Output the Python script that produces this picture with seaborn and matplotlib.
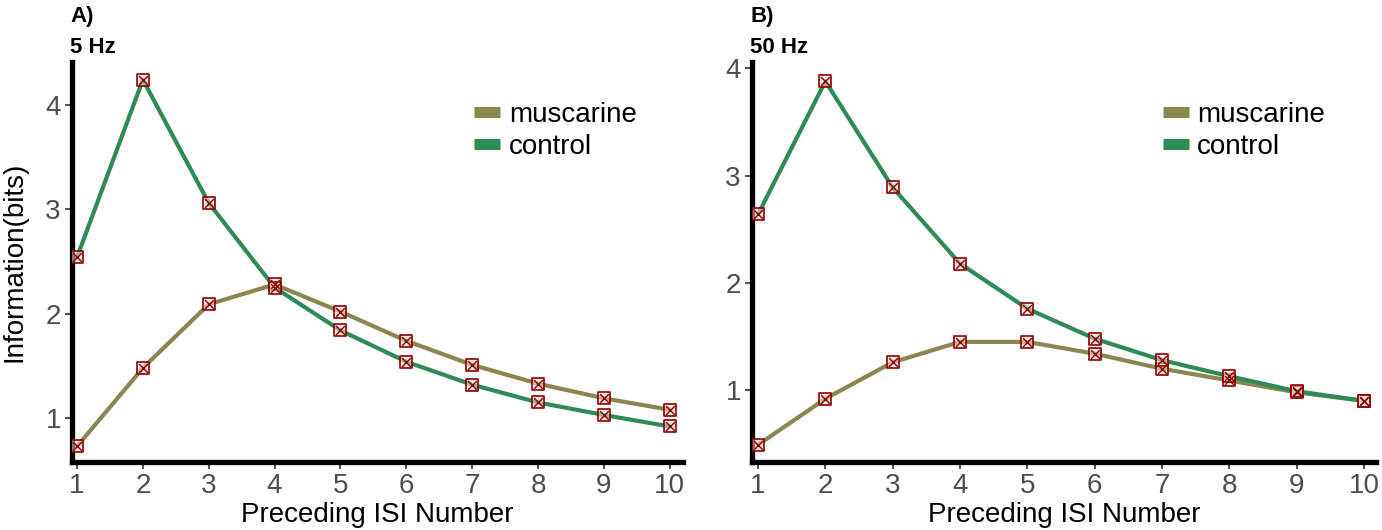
import numpy as np
import pandas as pd
import matplotlib
matplotlib.use("Agg")
import matplotlib.pyplot as plt
from matplotlib.lines import Line2D
import seaborn as sns

sns.set_style("white")
plt.rcParams['font.family'] = ['Liberation Sans', 'DejaVu Sans']
plt.rcParams['text.color'] = 'black'
plt.rcParams['axes.labelcolor'] = 'black'

isi = [1, 2, 3, 4, 5, 6, 7, 8, 9, 10]
control_5hz = [2.54, 4.24, 3.06, 2.25, 1.84, 1.54, 1.32, 1.15, 1.03, 0.92]
musc_5hz = [0.73, 1.48, 2.09, 2.28, 2.02, 1.74, 1.51, 1.33, 1.19, 1.08]
control_50hz = [2.64, 3.88, 2.89, 2.18, 1.76, 1.48, 1.28, 1.13, 0.99, 0.90]
musc_50hz = [0.49, 0.92, 1.26, 1.45, 1.45, 1.34, 1.20, 1.09, 0.98, 0.90]
series_names = ["muscarine", "control"]
colors = {"muscarine": "#8B8650", "control": "#2E8B57"}

panels = [
    ("A)", "5 Hz", musc_5hz, control_5hz, [1, 2, 3, 4], (0.58, 4.41), (0.924, 10.2)),
    ("B)", "50 Hz", musc_50hz, control_50hz, [1, 2, 3, 4], (0.33, 4.06), (0.91, 10.18)),
]
positions = [
    [72/1382, 1-462/530, (683-72)/1382, 400/530],
    [752/1382, 1-462/530, (1376-752)/1382, 400/530],
]

fig = plt.figure(figsize=(13.82, 5.30), dpi=100)
for (lab, sub, musc, ctrl, yt, ylim, xlim), pos in zip(panels, positions):
    ax = fig.add_axes(pos)
    df = pd.DataFrame({
        "isi": isi * 2,
        "info": musc + ctrl,
        "cond": ["muscarine"] * len(isi) + ["control"] * len(isi),
    })
    sns.lineplot(data=df, x="isi", y="info", hue="cond", palette=colors,
                 hue_order=series_names, linewidth=3.0, ax=ax, legend=False)
    sns.scatterplot(data=df, x="isi", y="info", marker="s", s=70,
                    facecolor=(1.0, 0.85, 0.85, 0.55), edgecolor="#8B0000",
                    linewidth=1.2, ax=ax, legend=False, zorder=3)
    sns.scatterplot(data=df, x="isi", y="info", marker="x", s=40,
                    color="#8B0000", linewidth=1.0, ax=ax, legend=False, zorder=4)
    ax.set_xlim(*xlim)
    ax.set_ylim(*ylim)
    ax.set_xticks(isi)
    ax.set_yticks(yt)
    ax.tick_params(axis="both", which="both", direction="out", length=5, width=1.2,
                   color="#333333", labelcolor="#4D4D4D", labelsize=20, pad=3,
                   bottom=True, left=True)
    for side in ["top", "right"]:
        ax.spines[side].set_visible(False)
    for side in ["left", "bottom"]:
        ax.spines[side].set_linewidth(3.8)
        ax.spines[side].set_color("black")
    ax.set_xlabel("Preceding ISI Number", fontsize=20, labelpad=2, color="black")
    if lab == "A)":
        ax.set_ylabel("Information(bits)", fontsize=20, color="black")
        ax.yaxis.set_label_coords(-44/611, 0.5)
    else:
        ax.set_ylabel("")
    ax.text(-0.003, 1 + 9/400, sub, transform=ax.transAxes, fontsize=16,
            fontweight="bold", ha="left", va="baseline", color="black")
    ax.text(-0.003, 1 + 40/400, lab, transform=ax.transAxes, fontsize=16,
            fontweight="bold", ha="left", va="baseline", color="black")
    handles = [Line2D([0], [0], color=colors[n], lw=8, solid_capstyle="butt",
                      marker="o", markersize=5, markerfacecolor=colors[n],
                      markeredgecolor=colors[n]) for n in series_names]
    leg = ax.legend(handles, series_names, loc="upper left", bbox_to_anchor=(0.658, 0.90),
                    frameon=False, fontsize=20, handlelength=0.95, handletextpad=0.3,
                    labelspacing=0.22, borderaxespad=0, borderpad=0)
    for t in leg.get_texts():
        t.set_color("black")

fig.savefig("out.png", dpi=100)
